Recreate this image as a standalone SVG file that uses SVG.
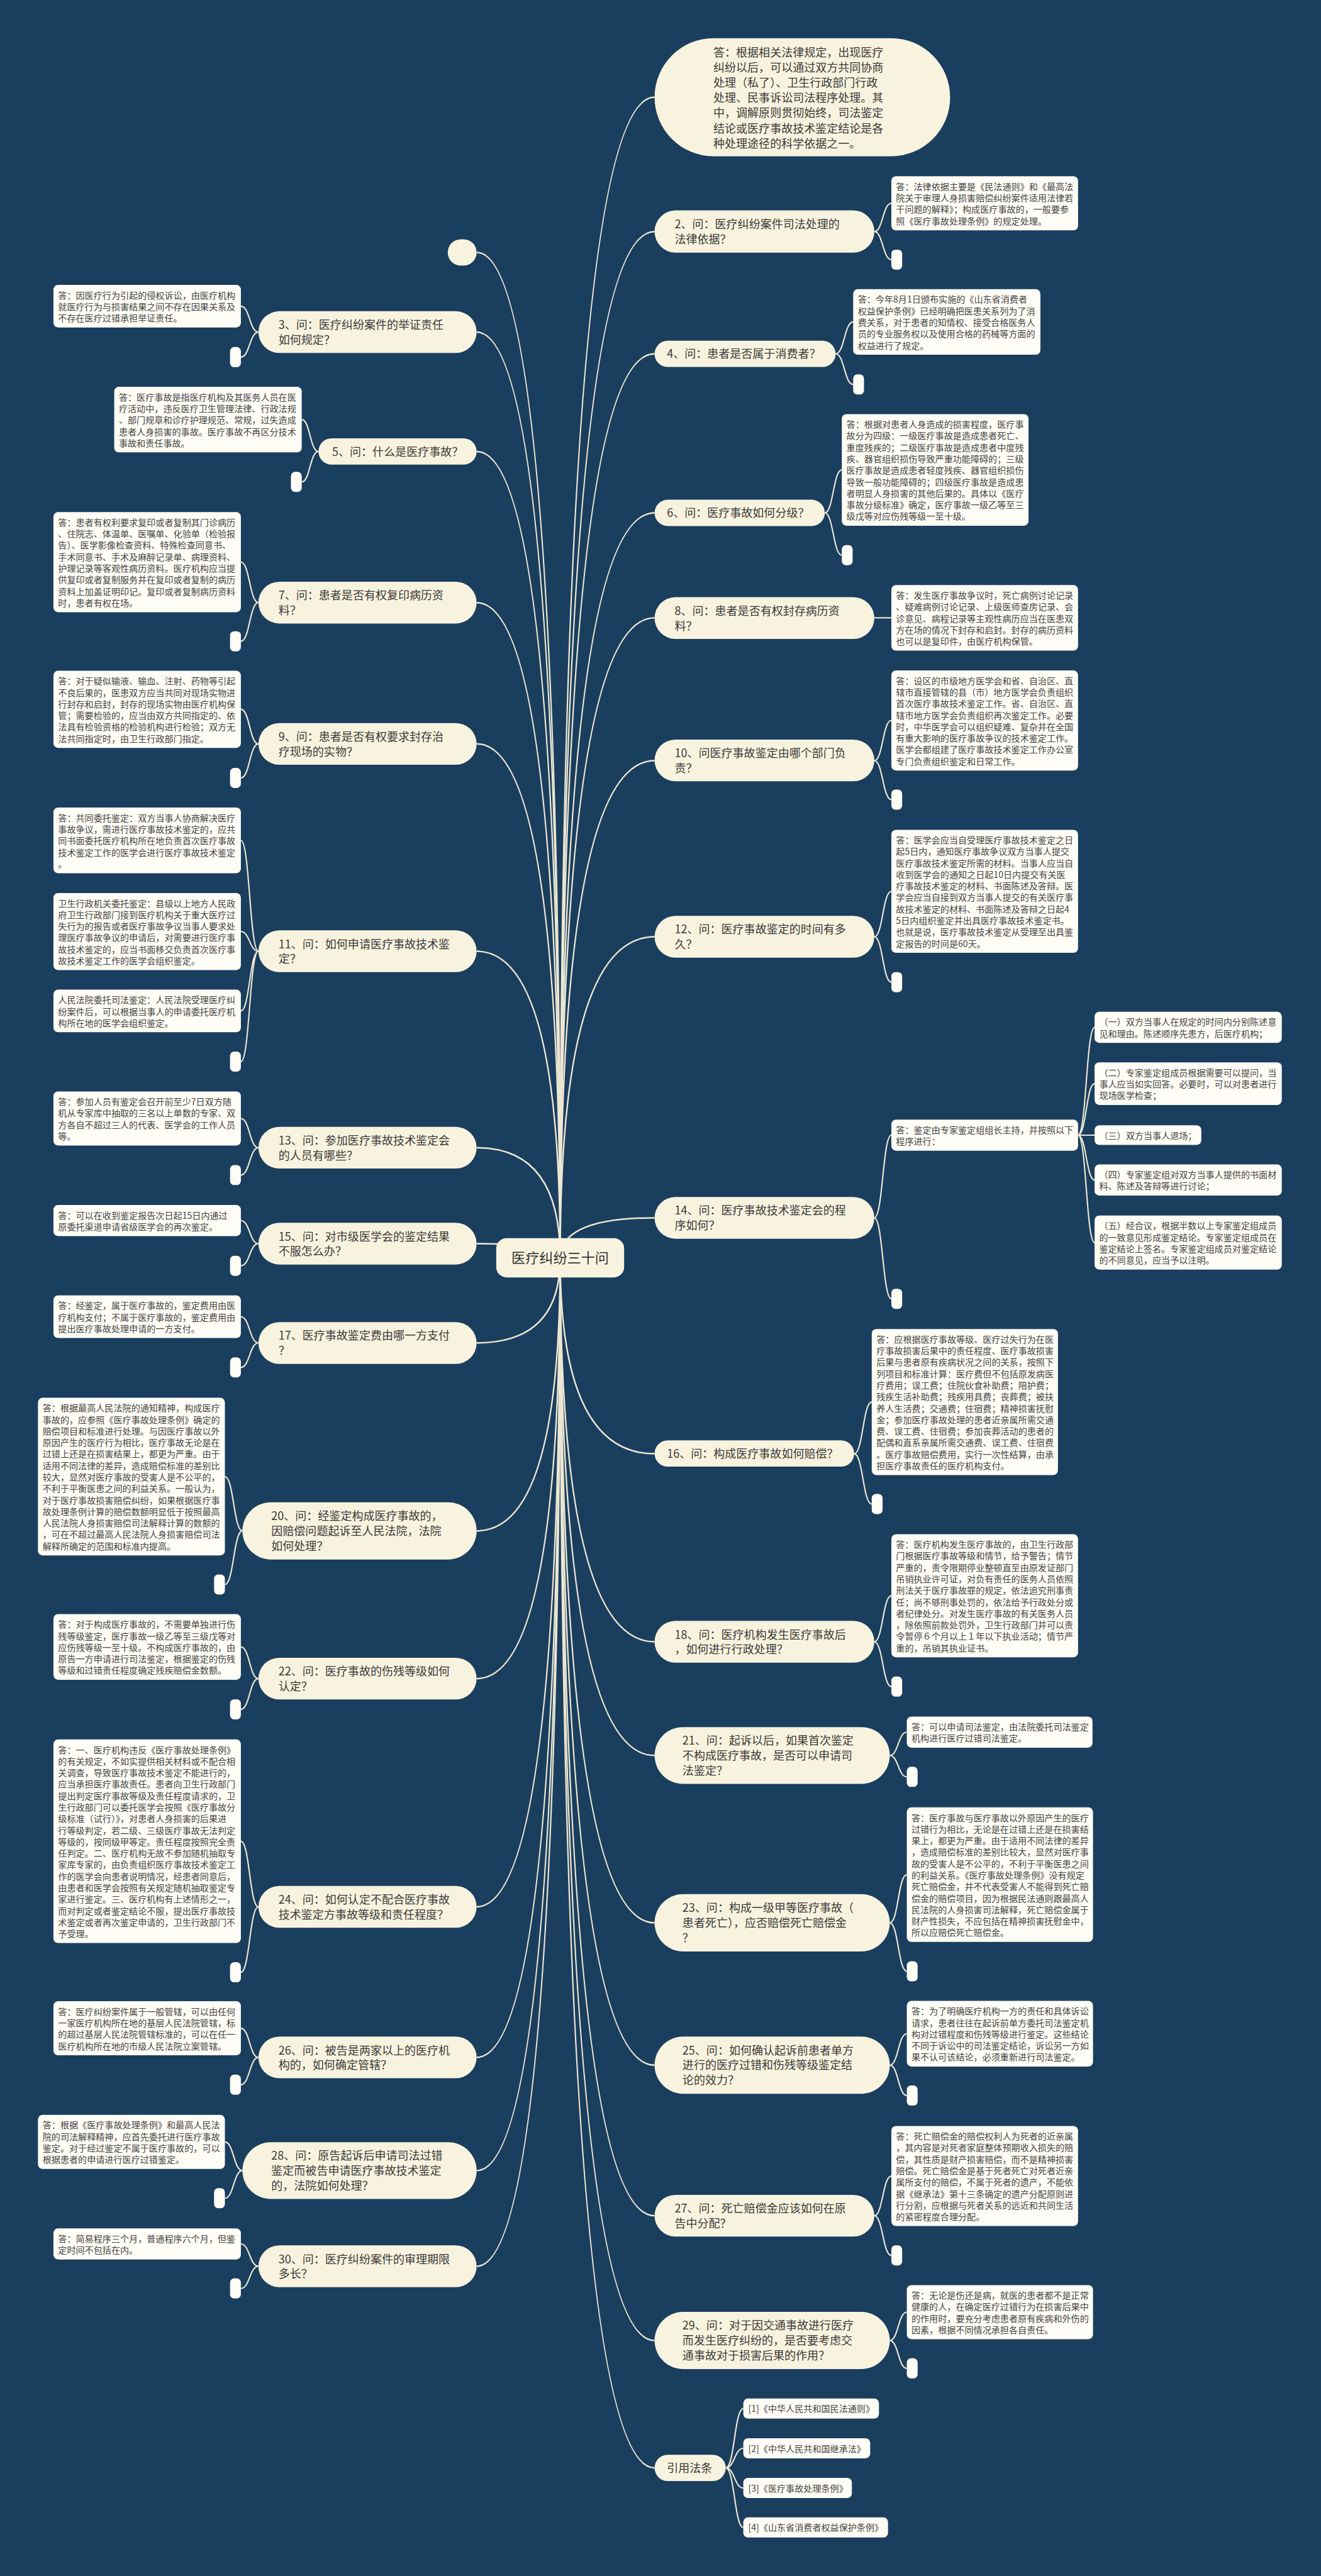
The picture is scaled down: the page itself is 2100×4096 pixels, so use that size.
<svg xmlns="http://www.w3.org/2000/svg" width="2100" height="4096" viewBox="0 0 2100 4096">
<style>
.m{fill:#f8f3de}
.l{fill:#fffdf5}
.e{fill:#fffdf5}
text{font-family:"Noto Sans CJK SC","Noto Sans",sans-serif}
.t{font-size:22px;fill:#3a3a3a}
.s{font-size:17.2px;fill:#444444}
.ct{font-size:27px;fill:#333333}
.c{fill:none;stroke:#ece7d3;stroke-width:2.6}
.k{fill:none;stroke:#ece7d3;stroke-width:3}
</style>
<rect width="2100" height="4096" fill="#1a3e5e"/>
<g transform="scale(0.82)">
<g id="connectors">
<path class="k" d="M1086,2440 Q1086,188.5 1269,188.5"/>
<path class="k" d="M1086,2440 Q1086,449 1269,449"/>
<path class="k" d="M1086,2440 Q1086,686 1269,686"/>
<path class="k" d="M1086,2440 Q1086,994.5 1269,994.5"/>
<path class="k" d="M1086,2440 Q1086,1198 1269,1198"/>
<path class="k" d="M1086,2440 Q1086,1475 1269,1475"/>
<path class="k" d="M1086,2440 Q1086,1816.5 1269,1816.5"/>
<path class="k" d="M1086,2440 Q1086,2361.5 1269,2361.5"/>
<path class="k" d="M1086,2440 Q1086,2819 1269,2819"/>
<path class="k" d="M1086,2440 Q1086,3183.5 1269,3183.5"/>
<path class="k" d="M1086,2440 Q1086,3404 1269,3404"/>
<path class="k" d="M1086,2440 Q1086,3728.5 1269,3728.5"/>
<path class="k" d="M1086,2440 Q1086,4004.5 1269,4004.5"/>
<path class="k" d="M1086,2440 Q1086,4296.5 1269,4296.5"/>
<path class="k" d="M1086,2440 Q1086,4538.5 1269,4538.5"/>
<path class="k" d="M1086,2440 Q1086,4785.5 1269,4785.5"/>
<path class="k" d="M1086,2440 Q1086,489.5 924,489.5"/>
<path class="k" d="M1086,2440 Q1086,644 924,644"/>
<path class="k" d="M1086,2440 Q1086,875.5 924,875.5"/>
<path class="k" d="M1086,2440 Q1086,1168.5 924,1168.5"/>
<path class="k" d="M1086,2440 Q1086,1442.5 924,1442.5"/>
<path class="k" d="M1086,2440 Q1086,1844.5 924,1844.5"/>
<path class="k" d="M1086,2440 Q1086,2225.5 924,2225.5"/>
<path class="k" d="M1086,2440 Q1086,2411.5 924,2411.5"/>
<path class="k" d="M1086,2440 Q1086,2604 924,2604"/>
<path class="k" d="M1086,2440 Q1086,2968.5 924,2968.5"/>
<path class="k" d="M1086,2440 Q1086,3255 924,3255"/>
<path class="k" d="M1086,2440 Q1086,3697.5 924,3697.5"/>
<path class="k" d="M1086,2440 Q1086,3989.5 924,3989.5"/>
<path class="k" d="M1086,2440 Q1086,4209 924,4209"/>
<path class="k" d="M1086,2440 Q1086,4394.5 924,4394.5"/>
<path class="c" d="M1695,449 C1711.5,449 1711.5,394.2 1728,394.2 M1695,449 C1711.5,449 1711.5,503.5 1728,503.5"/>
<path class="c" d="M1620,686 C1637,686 1637,624.3 1654,624.3 M1620,686 C1637,686 1637,745.5 1654,745.5"/>
<path class="c" d="M1599,994.5 C1615.5,994.5 1615.5,911.2 1632,911.2 M1599,994.5 C1615.5,994.5 1615.5,1076.5 1632,1076.5"/>
<path class="c" d="M1695,1198 L1728,1198"/>
<path class="c" d="M1695,1475 C1711.5,1475 1711.5,1397 1728,1397 M1695,1475 C1711.5,1475 1711.5,1550.5 1728,1550.5"/>
<path class="c" d="M1695,1816.5 C1711.5,1816.5 1711.5,1728.4 1728,1728.4 M1695,1816.5 C1711.5,1816.5 1711.5,1904.5 1728,1904.5"/>
<path class="c" d="M1695,2361.5 C1711.5,2361.5 1711.5,2201.2 1728,2201.2 M1695,2361.5 C1711.5,2361.5 1711.5,2518.5 1728,2518.5"/>
<path class="c" d="M2090,2201.2 C2106,2201.2 2106,1992.2 2122,1992.2 M2090,2201.2 C2106,2201.2 2106,2101.3 2122,2101.3 M2090,2201.2 L2122,2201.2 M2090,2201.2 C2106,2201.2 2106,2288.2 2122,2288.2 M2090,2201.2 C2106,2201.2 2106,2409.5 2122,2409.5"/>
<path class="c" d="M1656,2819 C1673,2819 1673,2718.7 1690,2718.7 M1656,2819 C1673,2819 1673,2916.5 1690,2916.5"/>
<path class="c" d="M1695,3183.5 C1711.5,3183.5 1711.5,3094.4 1728,3094.4 M1695,3183.5 C1711.5,3183.5 1711.5,3270.5 1728,3270.5"/>
<path class="c" d="M1725,3404 C1741.5,3404 1741.5,3358.8 1758,3358.8 M1725,3404 C1741.5,3404 1741.5,3445.5 1758,3445.5"/>
<path class="c" d="M1725,3728.5 C1741.5,3728.5 1741.5,3635.2 1758,3635.2 M1725,3728.5 C1741.5,3728.5 1741.5,3822.5 1758,3822.5"/>
<path class="c" d="M1725,4004.5 C1741.5,4004.5 1741.5,3943.6 1758,3943.6 M1725,4004.5 C1741.5,4004.5 1741.5,4063.5 1758,4063.5"/>
<path class="c" d="M1695,4296.5 C1711.5,4296.5 1711.5,4219.6 1728,4219.6 M1695,4296.5 C1711.5,4296.5 1711.5,4373.5 1728,4373.5"/>
<path class="c" d="M1725,4538.5 C1741.5,4538.5 1741.5,4483.5 1758,4483.5 M1725,4538.5 C1741.5,4538.5 1741.5,4592.5 1758,4592.5"/>
<path class="c" d="M1407,4785.5 C1424,4785.5 1424,4670.5 1441,4670.5 M1407,4785.5 C1424,4785.5 1424,4747.5 1441,4747.5 M1407,4785.5 C1424,4785.5 1424,4824.5 1441,4824.5 M1407,4785.5 C1424,4785.5 1424,4901 1441,4901"/>
<path class="c" d="M501,644 C484,644 484,593.8 467,593.8 M501,644 C484,644 484,692.5 467,692.5"/>
<path class="c" d="M617.4,875.5 C601,875.5 601,813.6 585,813.6 M617.4,875.5 C601,875.5 601,934.5 585,934.5"/>
<path class="c" d="M501,1168.5 C484,1168.5 484,1090 467,1090 M501,1168.5 C484,1168.5 484,1243.5 467,1243.5"/>
<path class="c" d="M501,1442.5 C484,1442.5 484,1375.5 467,1375.5 M501,1442.5 C484,1442.5 484,1508.5 467,1508.5"/>
<path class="c" d="M501,1844.5 C484,1844.5 484,1629.6 467,1629.6 M501,1844.5 C484,1844.5 484,1806.4 467,1806.4 M501,1844.5 C484,1844.5 484,1960.3 467,1960.3 M501,1844.5 C484,1844.5 484,2058.5 467,2058.5"/>
<path class="c" d="M501,2225.5 C484,2225.5 484,2168.9 467,2168.9 M501,2225.5 C484,2225.5 484,2278.5 467,2278.5"/>
<path class="c" d="M501,2411.5 C484,2411.5 484,2366.8 467,2366.8 M501,2411.5 C484,2411.5 484,2454.5 467,2454.5"/>
<path class="c" d="M501,2604 C484,2604 484,2553.3 467,2553.3 M501,2604 C484,2604 484,2651.5 467,2651.5"/>
<path class="c" d="M470,2968.5 C453,2968.5 453,2863.3 436,2863.3 M470,2968.5 C453,2968.5 453,3072.5 436,3072.5"/>
<path class="c" d="M501,3255 C484,3255 484,3193.6 467,3193.6 M501,3255 C484,3255 484,3314.5 467,3314.5"/>
<path class="c" d="M501,3697.5 C484,3697.5 484,3570.4 467,3570.4 M501,3697.5 C484,3697.5 484,3824.5 467,3824.5"/>
<path class="c" d="M501,3989.5 C484,3989.5 484,3933 467,3933 M501,3989.5 C484,3989.5 484,4042.5 467,4042.5"/>
<path class="c" d="M470,4209 C453,4209 453,4153.5 436,4153.5 M470,4209 C453,4209 453,4262.5 436,4262.5"/>
<path class="c" d="M501,4394.5 C484,4394.5 484,4351.2 467,4351.2 M501,4394.5 C484,4394.5 484,4437.5 467,4437.5"/>
</g>

<g id="root"><rect class="m" x="962" y="2401" width="248" height="76" rx="20"/><text class="ct" x="1086" y="2449" text-anchor="middle">医疗纠纷三十问</text></g>

<g id="n1"><rect class="m" x="1269" y="74" width="573" height="229" rx="114.5"/><text class="t"><tspan x="1383" y="109.8">答：根据相关法律规定，出现医疗</tspan><tspan x="1383" y="139.2">纠纷以后，可以通过双方共同协商</tspan><tspan x="1383" y="168.6">处理（私了）、卫生行政部门行政</tspan><tspan x="1383" y="198">处理、民事诉讼司法程序处理。其</tspan><tspan x="1383" y="227.4">中，调解原则贯彻始终，司法鉴定</tspan><tspan x="1383" y="256.8">结论或医疗事故技术鉴定结论是各</tspan><tspan x="1383" y="286.2">种处理途径的科学依据之一。</tspan></text></g>

<g id="n2"><rect class="m" x="1269" y="408" width="426" height="82" rx="41"/><text class="t"><tspan x="1308" y="443.1">2、问：医疗纠纷案件司法处理的</tspan><tspan x="1308" y="472.1">法律依据？</tspan></text></g>
<g id="n2a"><rect class="l" x="1728" y="341.7" width="362" height="105" rx="9"/><text class="s"><tspan x="1737" y="368.1">答：法律依据主要是《民法通则》和《最高法</tspan><tspan x="1737" y="390.4">院关于审理人身损害赔偿纠纷案件适用法律若</tspan><tspan x="1737" y="412.7">干问题的解释》；构成医疗事故的，一般要参</tspan><tspan x="1737" y="435">照《医疗事故处理条例》的规定处理。</tspan></text></g>
<g id="n2b"><rect class="e" x="1728" y="484" width="21" height="39" rx="8"/></g>

<g id="n4"><rect class="m" x="1269" y="660.7" width="351" height="51" rx="25.5"/><text class="t" x="1293" y="694.1">4、问：患者是否属于消费者？</text></g>
<g id="n4a"><rect class="l" x="1654" y="560.7" width="363" height="127.2" rx="9"/><text class="s"><tspan x="1663" y="587.1">答：今年8月1日颁布实施的《山东省消费者</tspan><tspan x="1663" y="609.4">权益保护条例》已经明确把医患关系列为了消</tspan><tspan x="1663" y="631.7">费关系，对于患者的知情权、接受合格医务人</tspan><tspan x="1663" y="654">员的专业服务权以及使用合格的药械等方面的</tspan><tspan x="1663" y="676.3">权益进行了规定。</tspan></text></g>
<g id="n4b"><rect class="e" x="1654" y="726" width="21" height="39" rx="8"/></g>

<g id="n6"><rect class="m" x="1269" y="969" width="330" height="51" rx="25.5"/><text class="t" x="1293" y="1002.6">6、问：医疗事故如何分级？</text></g>
<g id="n6a"><rect class="l" x="1632" y="803" width="362" height="216.4" rx="9"/><text class="s"><tspan x="1641" y="829.4">答：根据对患者人身造成的损害程度，医疗事</tspan><tspan x="1641" y="851.7">故分为四级：一级医疗事故是造成患者死亡、</tspan><tspan x="1641" y="874">重度残疾的；二级医疗事故是造成患者中度残</tspan><tspan x="1641" y="896.3">疾、器官组织损伤导致严重功能障碍的；三级</tspan><tspan x="1641" y="918.6">医疗事故是造成患者轻度残疾、器官组织损伤</tspan><tspan x="1641" y="940.9">导致一般功能障碍的；四级医疗事故是造成患</tspan><tspan x="1641" y="963.2">者明显人身损害的其他后果的。具体以《医疗</tspan><tspan x="1641" y="985.5">事故分级标准》确定，医疗事故一级乙等至三</tspan><tspan x="1641" y="1007.8">级戊等对应伤残等级一至十级。</tspan></text></g>
<g id="n6b"><rect class="e" x="1632" y="1057" width="21" height="39" rx="8"/></g>

<g id="n8"><rect class="m" x="1269" y="1158" width="426" height="81" rx="40.5"/><text class="t"><tspan x="1308" y="1192.6">8、问：患者是否有权封存病历资</tspan><tspan x="1308" y="1221.6">料？</tspan></text></g>
<g id="n8a"><rect class="l" x="1728" y="1134.5" width="362" height="127.2" rx="9"/><text class="s"><tspan x="1737" y="1160.9">答：发生医疗事故争议时，死亡病例讨论记录</tspan><tspan x="1737" y="1183.2">、疑难病例讨论记录、上级医师查房记录、会</tspan><tspan x="1737" y="1205.5">诊意见、病程记录等主观性病历应当在医患双</tspan><tspan x="1737" y="1227.8">方在场的情况下封存和启封。封存的病历资料</tspan><tspan x="1737" y="1250.1">也可以是复印件，由医疗机构保管。</tspan></text></g>

<g id="n10"><rect class="m" x="1269" y="1434" width="426" height="81" rx="40.5"/><text class="t"><tspan x="1308" y="1468.6">10、问医疗事故鉴定由哪个部门负</tspan><tspan x="1308" y="1497.6">责？</tspan></text></g>
<g id="n10a"><rect class="l" x="1728" y="1300" width="362" height="194.1" rx="9"/><text class="s"><tspan x="1737" y="1326.4">答：设区的市级地方医学会和省、自治区、直</tspan><tspan x="1737" y="1348.7">辖市直接管辖的县（市）地方医学会负责组织</tspan><tspan x="1737" y="1371">首次医疗事故技术鉴定工作。省、自治区、直</tspan><tspan x="1737" y="1393.3">辖市地方医学会负责组织再次鉴定工作。必要</tspan><tspan x="1737" y="1415.6">时，中华医学会可以组织疑难、复杂并在全国</tspan><tspan x="1737" y="1437.9">有重大影响的医疗事故争议的技术鉴定工作。</tspan><tspan x="1737" y="1460.2">医学会都组建了医疗事故技术鉴定工作办公室</tspan><tspan x="1737" y="1482.5">专门负责组织鉴定和日常工作。</tspan></text></g>
<g id="n10b"><rect class="e" x="1728" y="1531" width="21" height="39" rx="8"/></g>

<g id="n12"><rect class="m" x="1269" y="1776" width="426" height="81" rx="40.5"/><text class="t"><tspan x="1308" y="1810.1">12、问：医疗事故鉴定的时间有多</tspan><tspan x="1308" y="1839.1">久？</tspan></text></g>
<g id="n12a"><rect class="l" x="1728" y="1609" width="362" height="238.7" rx="9"/><text class="s"><tspan x="1737" y="1635.4">答：医学会应当自受理医疗事故技术鉴定之日</tspan><tspan x="1737" y="1657.7">起5日内，通知医疗事故争议双方当事人提交</tspan><tspan x="1737" y="1680">医疗事故技术鉴定所需的材料。当事人应当自</tspan><tspan x="1737" y="1702.3">收到医学会的通知之日起10日内提交有关医</tspan><tspan x="1737" y="1724.6">疗事故技术鉴定的材料、书面陈述及答辩。医</tspan><tspan x="1737" y="1746.9">学会应当自接到双方当事人提交的有关医疗事</tspan><tspan x="1737" y="1769.2">故技术鉴定的材料、书面陈述及答辩之日起4</tspan><tspan x="1737" y="1791.5">5日内组织鉴定并出具医疗事故技术鉴定书。</tspan><tspan x="1737" y="1813.8">也就是说，医疗事故技术鉴定从受理至出具鉴</tspan><tspan x="1737" y="1836.1">定报告的时间是60天。</tspan></text></g>
<g id="n12b"><rect class="e" x="1728" y="1885" width="21" height="39" rx="8"/></g>

<g id="n14"><rect class="m" x="1269" y="2321" width="426" height="81" rx="40.5"/><text class="t"><tspan x="1308" y="2355.1">14、问：医疗事故技术鉴定会的程</tspan><tspan x="1308" y="2384.1">序如何？</tspan></text></g>
<g id="n14a"><rect class="l" x="1728" y="2171" width="362" height="60.3" rx="9"/><text class="s"><tspan x="1737" y="2197.4">答：鉴定由专家鉴定组组长主持，并按照以下</tspan><tspan x="1737" y="2219.7">程序进行：</tspan></text></g>
<g id="n14a1"><rect class="l" x="2122" y="1962" width="363" height="60.3" rx="9"/><text class="s"><tspan x="2131" y="1988.4">（一）双方当事人在规定的时间内分别陈述意</tspan><tspan x="2131" y="2010.7">见和理由。陈述顺序先患方，后医疗机构；</tspan></text></g>
<g id="n14a2"><rect class="l" x="2122" y="2060" width="363" height="82.6" rx="9"/><text class="s"><tspan x="2131" y="2086.4">（二）专家鉴定组成员根据需要可以提问，当</tspan><tspan x="2131" y="2108.7">事人应当如实回答。必要时，可以对患者进行</tspan><tspan x="2131" y="2131">现场医学检查；</tspan></text></g>
<g id="n14a3"><rect class="l" x="2122" y="2182" width="207" height="38" rx="9"/><text class="s" x="2131" y="2208.4">（三）双方当事人退场；</text></g>
<g id="n14a4"><rect class="l" x="2122" y="2258" width="363" height="60.3" rx="9"/><text class="s"><tspan x="2131" y="2284.4">（四）专家鉴定组对双方当事人提供的书面材</tspan><tspan x="2131" y="2306.7">料、陈述及答辩等进行讨论；</tspan></text></g>
<g id="n14a5"><rect class="l" x="2122" y="2357" width="363" height="104.9" rx="9"/><text class="s"><tspan x="2131" y="2383.4">（五）经合议，根据半数以上专家鉴定组成员</tspan><tspan x="2131" y="2405.7">的一致意见形成鉴定结论。专家鉴定组成员在</tspan><tspan x="2131" y="2428">鉴定结论上签名。专家鉴定组成员对鉴定结论</tspan><tspan x="2131" y="2450.3">的不同意见，应当予以注明。</tspan></text></g>
<g id="n14b"><rect class="e" x="1728" y="2499" width="21" height="39" rx="8"/></g>

<g id="n16"><rect class="m" x="1269" y="2793" width="387" height="51" rx="25.5"/><text class="t" x="1293" y="2827.1">16、问：构成医疗事故如何赔偿？</text></g>
<g id="n16a"><rect class="l" x="1690" y="2577" width="361" height="283.3" rx="9"/><text class="s"><tspan x="1699" y="2603.4">答：应根据医疗事故等级、医疗过失行为在医</tspan><tspan x="1699" y="2625.7">疗事故损害后果中的责任程度、医疗事故损害</tspan><tspan x="1699" y="2648">后果与患者原有疾病状况之间的关系，按照下</tspan><tspan x="1699" y="2670.3">列项目和标准计算：医疗费但不包括原发病医</tspan><tspan x="1699" y="2692.6">疗费用；误工费；住院伙食补助费；陪护费；</tspan><tspan x="1699" y="2714.9">残疾生活补助费；残疾用具费；丧葬费；被扶</tspan><tspan x="1699" y="2737.2">养人生活费；交通费；住宿费；精神损害抚慰</tspan><tspan x="1699" y="2759.5">金；参加医疗事故处理的患者近亲属所需交通</tspan><tspan x="1699" y="2781.8">费、误工费、住宿费；参加丧葬活动的患者的</tspan><tspan x="1699" y="2804.1">配偶和直系亲属所需交通费、误工费、住宿费</tspan><tspan x="1699" y="2826.4">。医疗事故赔偿费用，实行一次性结算，由承</tspan><tspan x="1699" y="2848.7">担医疗事故责任的医疗机构支付。</tspan></text></g>
<g id="n16b"><rect class="e" x="1690" y="2897" width="21" height="39" rx="8"/></g>

<g id="n18"><rect class="m" x="1269" y="3143" width="426" height="81" rx="40.5"/><text class="t"><tspan x="1308" y="3177.6">18、问：医疗机构发生医疗事故后</tspan><tspan x="1308" y="3206.6">，如何进行行政处理？</tspan></text></g>
<g id="n18a"><rect class="l" x="1728" y="2975" width="362" height="238.7" rx="9"/><text class="s"><tspan x="1737" y="3001.4">答：医疗机构发生医疗事故的，由卫生行政部</tspan><tspan x="1737" y="3023.7">门根据医疗事故等级和情节，给予警告；情节</tspan><tspan x="1737" y="3046">严重的，责令限期停业整顿直至由原发证部门</tspan><tspan x="1737" y="3068.3">吊销执业许可证，对负有责任的医务人员依照</tspan><tspan x="1737" y="3090.6">刑法关于医疗事故罪的规定，依法追究刑事责</tspan><tspan x="1737" y="3112.9">任；尚不够刑事处罚的，依法给予行政处分或</tspan><tspan x="1737" y="3135.2">者纪律处分。对发生医疗事故的有关医务人员</tspan><tspan x="1737" y="3157.5">，除依照前款处罚外，卫生行政部门并可以责</tspan><tspan x="1737" y="3179.8">令暂停６个月以上１年以下执业活动；情节严</tspan><tspan x="1737" y="3202.1">重的，吊销其执业证书。</tspan></text></g>
<g id="n18b"><rect class="e" x="1728" y="3251" width="21" height="39" rx="8"/></g>

<g id="n21"><rect class="m" x="1269" y="3349" width="456" height="110" rx="55"/><text class="t"><tspan x="1323" y="3383.1">21、问：起诉以后，如果首次鉴定</tspan><tspan x="1323" y="3412.1">不构成医疗事故，是否可以申请司</tspan><tspan x="1323" y="3441.1">法鉴定？</tspan></text></g>
<g id="n21a"><rect class="l" x="1758" y="3328.6" width="360" height="60.3" rx="9"/><text class="s"><tspan x="1767" y="3355">答：可以申请司法鉴定，由法院委托司法鉴定</tspan><tspan x="1767" y="3377.3">机构进行医疗过错司法鉴定。</tspan></text></g>
<g id="n21b"><rect class="e" x="1758" y="3426" width="21" height="39" rx="8"/></g>

<g id="n23"><rect class="m" x="1269" y="3673" width="456" height="111" rx="55.5"/><text class="t"><tspan x="1323" y="3707.6">23、问：构成一级甲等医疗事故（</tspan><tspan x="1323" y="3736.6">患者死亡），应否赔偿死亡赔偿金</tspan><tspan x="1323" y="3765.6">？</tspan></text></g>
<g id="n23a"><rect class="l" x="1758" y="3504.7" width="361" height="261" rx="9"/><text class="s"><tspan x="1767" y="3531.1">答：医疗事故与医疗事故以外原因产生的医疗</tspan><tspan x="1767" y="3553.4">过错行为相比，无论是在过错上还是在损害结</tspan><tspan x="1767" y="3575.7">果上，都更为严重。由于适用不同法律的差异</tspan><tspan x="1767" y="3598">，造成赔偿标准的差别比较大，显然对医疗事</tspan><tspan x="1767" y="3620.3">故的受害人是不公平的，不利于平衡医患之间</tspan><tspan x="1767" y="3642.6">的利益关系。《医疗事故处理条例》没有规定</tspan><tspan x="1767" y="3664.9">死亡赔偿金，并不代表受害人不能得到死亡赔</tspan><tspan x="1767" y="3687.2">偿金的赔偿项目，因为根据民法通则跟最高人</tspan><tspan x="1767" y="3709.5">民法院的人身损害司法解释，死亡赔偿金属于</tspan><tspan x="1767" y="3731.8">财产性损失，不应包括在精神损害抚慰金中，</tspan><tspan x="1767" y="3754.1">所以应赔偿死亡赔偿金。</tspan></text></g>
<g id="n23b"><rect class="e" x="1758" y="3803" width="21" height="39" rx="8"/></g>

<g id="n25"><rect class="m" x="1269" y="3949" width="456" height="111" rx="55.5"/><text class="t"><tspan x="1323" y="3983.6">25、问：如何确认起诉前患者单方</tspan><tspan x="1323" y="4012.6">进行的医疗过错和伤残等级鉴定结</tspan><tspan x="1323" y="4041.6">论的效力？</tspan></text></g>
<g id="n25a"><rect class="l" x="1758" y="3880" width="361" height="127.2" rx="9"/><text class="s"><tspan x="1767" y="3906.4">答：为了明确医疗机构一方的责任和具体诉讼</tspan><tspan x="1767" y="3928.7">请求，患者往往在起诉前单方委托司法鉴定机</tspan><tspan x="1767" y="3951">构对过错程度和伤残等级进行鉴定。这些结论</tspan><tspan x="1767" y="3973.3">不同于诉讼中的司法鉴定结论，诉讼另一方如</tspan><tspan x="1767" y="3995.6">果不认可该结论，必须重新进行司法鉴定。</tspan></text></g>
<g id="n25b"><rect class="e" x="1758" y="4044" width="21" height="39" rx="8"/></g>

<g id="n27"><rect class="m" x="1269" y="4256" width="426" height="81" rx="40.5"/><text class="t"><tspan x="1308" y="4290.6">27、问：死亡赔偿金应该如何在原</tspan><tspan x="1308" y="4319.6">告中分配？</tspan></text></g>
<g id="n27a"><rect class="l" x="1728" y="4122.5" width="362" height="194.1" rx="9"/><text class="s"><tspan x="1737" y="4148.9">答：死亡赔偿金的赔偿权利人为死者的近亲属</tspan><tspan x="1737" y="4171.2">，其内容是对死者家庭整体预期收入损失的赔</tspan><tspan x="1737" y="4193.5">偿，其性质是财产损害赔偿，而不是精神损害</tspan><tspan x="1737" y="4215.8">赔偿。死亡赔偿金是基于死者死亡对死者近亲</tspan><tspan x="1737" y="4238.1">属所支付的赔偿，不属于死者的遗产，不能依</tspan><tspan x="1737" y="4260.4">据《继承法》第十三条确定的遗产分配原则进</tspan><tspan x="1737" y="4282.7">行分割，应根据与死者关系的远近和共同生活</tspan><tspan x="1737" y="4305">的紧密程度合理分配。</tspan></text></g>
<g id="n27b"><rect class="e" x="1728" y="4354" width="21" height="39" rx="8"/></g>

<g id="n29"><rect class="m" x="1269" y="4483" width="456" height="111" rx="55.5"/><text class="t"><tspan x="1323" y="4517.6">29、问：对于因交通事故进行医疗</tspan><tspan x="1323" y="4546.6">而发生医疗纠纷的，是否要考虑交</tspan><tspan x="1323" y="4575.6">通事故对于损害后果的作用？</tspan></text></g>
<g id="n29a"><rect class="l" x="1758" y="4431" width="361" height="104.9" rx="9"/><text class="s"><tspan x="1767" y="4457.4">答：无论是伤还是病，就医的患者都不是正常</tspan><tspan x="1767" y="4479.7">健康的人，在确定医疗过错行为在损害后果中</tspan><tspan x="1767" y="4502">的作用时，要充分考虑患者原有疾病和外伤的</tspan><tspan x="1767" y="4524.3">因素，根据不同情况承担各自责任。</tspan></text></g>
<g id="n29b"><rect class="e" x="1758" y="4573" width="21" height="39" rx="8"/></g>

<g id="nref"><rect class="m" x="1269" y="4760" width="138" height="51" rx="25.5"/><text class="t" x="1293" y="4793.6">引用法条</text></g>
<g id="ref1"><rect class="l" x="1441" y="4651" width="263" height="39" rx="9"/><text class="s" x="1450.6" y="4677.4">[1]《中华人民共和国民法通则》</text></g>
<g id="ref2"><rect class="l" x="1441" y="4728" width="246" height="39" rx="9"/><text class="s" x="1450.6" y="4754.4">[2]《中华人民共和国继承法》</text></g>
<g id="ref3"><rect class="l" x="1441" y="4805" width="210.5" height="39" rx="9"/><text class="s" x="1450.6" y="4831.4">[3]《医疗事故处理条例》</text></g>
<g id="ref4"><rect class="l" x="1441" y="4881.5" width="280.6" height="39" rx="9"/><text class="s" x="1450.6" y="4907.9">[4]《山东省消费者权益保护条例》</text></g>

<g id="n0"><rect class="m" x="868" y="464" width="56" height="51" rx="25.5"/></g>

<g id="n3"><rect class="m" x="501" y="603.5" width="423" height="81" rx="40.5"/><text class="t"><tspan x="540" y="638.1">3、问：医疗纠纷案件的举证责任</tspan><tspan x="540" y="667.1">如何规定？</tspan></text></g>
<g id="n3a"><rect class="l" x="103.6" y="552.5" width="363.4" height="82.6" rx="9"/><text class="s"><tspan x="112.6" y="578.9">答：因医疗行为引起的侵权诉讼，由医疗机构</tspan><tspan x="112.6" y="601.2">就医疗行为与损害结果之间不存在因果关系及</tspan><tspan x="112.6" y="623.5">不存在医疗过错承担举证责任。</tspan></text></g>
<g id="n3b"><rect class="e" x="446" y="673" width="21" height="39" rx="8"/></g>

<g id="n5"><rect class="m" x="617.4" y="850" width="306.6" height="51" rx="25.5"/><text class="t" x="644" y="883.6">5、问：什么是医疗事故？</text></g>
<g id="n5a"><rect class="l" x="221.4" y="750" width="363.6" height="127.2" rx="9"/><text class="s"><tspan x="230.4" y="776.4">答：医疗事故是指医疗机构及其医务人员在医</tspan><tspan x="230.4" y="798.7">疗活动中，违反医疗卫生管理法律、行政法规</tspan><tspan x="230.4" y="821">、部门规章和诊疗护理规范、常规，过失造成</tspan><tspan x="230.4" y="843.3">患者人身损害的事故。医疗事故不再区分技术</tspan><tspan x="230.4" y="865.6">事故和责任事故。</tspan></text></g>
<g id="n5b"><rect class="e" x="564" y="915" width="21" height="39" rx="8"/></g>

<g id="n7"><rect class="m" x="501" y="1128" width="423" height="81" rx="40.5"/><text class="t"><tspan x="540" y="1162.6">7、问：患者是否有权复印病历资</tspan><tspan x="540" y="1191.6">料？</tspan></text></g>
<g id="n7a"><rect class="l" x="103.6" y="993" width="363.4" height="194.1" rx="9"/><text class="s"><tspan x="112.6" y="1019.4">答：患者有权利要求复印或者复制其门诊病历</tspan><tspan x="112.6" y="1041.7">、住院志、体温单、医嘱单、化验单（检验报</tspan><tspan x="112.6" y="1064">告）、医学影像检查资料、特殊检查同意书、</tspan><tspan x="112.6" y="1086.3">手术同意书、手术及麻醉记录单、病理资料、</tspan><tspan x="112.6" y="1108.6">护理记录等客观性病历资料。医疗机构应当提</tspan><tspan x="112.6" y="1130.9">供复印或者复制服务并在复印或者复制的病历</tspan><tspan x="112.6" y="1153.2">资料上加盖证明印记。复印或者复制病历资料</tspan><tspan x="112.6" y="1175.5">时，患者有权在场。</tspan></text></g>
<g id="n7b"><rect class="e" x="446" y="1224" width="21" height="39" rx="8"/></g>

<g id="n9"><rect class="m" x="501" y="1402" width="423" height="81" rx="40.5"/><text class="t"><tspan x="540" y="1436.6">9、问：患者是否有权要求封存治</tspan><tspan x="540" y="1465.6">疗现场的实物？</tspan></text></g>
<g id="n9a"><rect class="l" x="103.6" y="1300.7" width="363.4" height="149.5" rx="9"/><text class="s"><tspan x="112.6" y="1327.1">答：对于疑似输液、输血、注射、药物等引起</tspan><tspan x="112.6" y="1349.4">不良后果的，医患双方应当共同对现场实物进</tspan><tspan x="112.6" y="1371.7">行封存和启封，封存的现场实物由医疗机构保</tspan><tspan x="112.6" y="1394">管；需要检验的，应当由双方共同指定的、依</tspan><tspan x="112.6" y="1416.3">法具有检验资格的检验机构进行检验；双方无</tspan><tspan x="112.6" y="1438.6">法共同指定时，由卫生行政部门指定。</tspan></text></g>
<g id="n9b"><rect class="e" x="446" y="1489" width="21" height="39" rx="8"/></g>

<g id="n11"><rect class="m" x="501" y="1804" width="423" height="81" rx="40.5"/><text class="t"><tspan x="540" y="1838.6">11、问：如何申请医疗事故技术鉴</tspan><tspan x="540" y="1867.6">定？</tspan></text></g>
<g id="n11a"><rect class="l" x="103.6" y="1566" width="363.4" height="127.2" rx="9"/><text class="s"><tspan x="112.6" y="1592.4">答：共同委托鉴定：双方当事人协商解决医疗</tspan><tspan x="112.6" y="1614.7">事故争议，需进行医疗事故技术鉴定的，应共</tspan><tspan x="112.6" y="1637">同书面委托医疗机构所在地负责首次医疗事故</tspan><tspan x="112.6" y="1659.3">技术鉴定工作的医学会进行医疗事故技术鉴定</tspan><tspan x="112.6" y="1681.6">。</tspan></text></g>
<g id="n11b"><rect class="l" x="103.6" y="1731.6" width="363.4" height="149.5" rx="9"/><text class="s"><tspan x="112.6" y="1758">卫生行政机关委托鉴定：县级以上地方人民政</tspan><tspan x="112.6" y="1780.3">府卫生行政部门接到医疗机构关于重大医疗过</tspan><tspan x="112.6" y="1802.6">失行为的报告或者医疗事故争议当事人要求处</tspan><tspan x="112.6" y="1824.9">理医疗事故争议的申请后，对需要进行医疗事</tspan><tspan x="112.6" y="1847.2">故技术鉴定的，应当书面移交负责首次医疗事</tspan><tspan x="112.6" y="1869.5">故技术鉴定工作的医学会组织鉴定。</tspan></text></g>
<g id="n11c"><rect class="l" x="103.6" y="1919" width="363.4" height="82.6" rx="9"/><text class="s"><tspan x="112.6" y="1945.4">人民法院委托司法鉴定：人民法院受理医疗纠</tspan><tspan x="112.6" y="1967.7">纷案件后，可以根据当事人的申请委托医疗机</tspan><tspan x="112.6" y="1990">构所在地的医学会组织鉴定。</tspan></text></g>
<g id="n11d"><rect class="e" x="446" y="2039" width="21" height="39" rx="8"/></g>

<g id="n13"><rect class="m" x="501" y="2185" width="423" height="81" rx="40.5"/><text class="t"><tspan x="540" y="2219.6">13、问：参加医疗事故技术鉴定会</tspan><tspan x="540" y="2248.6">的人员有哪些？</tspan></text></g>
<g id="n13a"><rect class="l" x="103.6" y="2116.4" width="363.4" height="104.9" rx="9"/><text class="s"><tspan x="112.6" y="2142.8">答：参加人员有鉴定会召开前至少7日双方随</tspan><tspan x="112.6" y="2165.1">机从专家库中抽取的三名以上单数的专家、双</tspan><tspan x="112.6" y="2187.4">方各自不超过三人的代表、医学会的工作人员</tspan><tspan x="112.6" y="2209.7">等。</tspan></text></g>
<g id="n13b"><rect class="e" x="446" y="2259" width="21" height="39" rx="8"/></g>

<g id="n15"><rect class="m" x="501" y="2371" width="423" height="81" rx="40.5"/><text class="t"><tspan x="540" y="2405.6">15、问：对市级医学会的鉴定结果</tspan><tspan x="540" y="2434.6">不服怎么办？</tspan></text></g>
<g id="n15a"><rect class="l" x="103.6" y="2336.6" width="363.4" height="60.3" rx="9"/><text class="s"><tspan x="112.6" y="2363">答：可以在收到鉴定报告次日起15日内通过</tspan><tspan x="112.6" y="2385.3">原委托渠道申请省级医学会的再次鉴定。</tspan></text></g>
<g id="n15b"><rect class="e" x="446" y="2435" width="21" height="39" rx="8"/></g>

<g id="n17"><rect class="m" x="501" y="2563.7" width="423" height="81" rx="40.5"/><text class="t"><tspan x="540" y="2598.1">17、医疗事故鉴定费由哪一方支付</tspan><tspan x="540" y="2627.1">？</tspan></text></g>
<g id="n17a"><rect class="l" x="103.6" y="2512" width="363.4" height="82.6" rx="9"/><text class="s"><tspan x="112.6" y="2538.4">答：经鉴定，属于医疗事故的，鉴定费用由医</tspan><tspan x="112.6" y="2560.7">疗机构支付；不属于医疗事故的，鉴定费用由</tspan><tspan x="112.6" y="2583">提出医疗事故处理申请的一方支付。</tspan></text></g>
<g id="n17b"><rect class="e" x="446" y="2632" width="21" height="39" rx="8"/></g>

<g id="n20"><rect class="m" x="470" y="2913" width="454" height="111" rx="55.5"/><text class="t"><tspan x="526" y="2947.6">20、问：经鉴定构成医疗事故的，</tspan><tspan x="526" y="2976.6">因赔偿问题起诉至人民法院，法院</tspan><tspan x="526" y="3005.6">如何处理？</tspan></text></g>
<g id="n20a"><rect class="l" x="73.6" y="2710.5" width="362.4" height="305.6" rx="9"/><text class="s"><tspan x="82.6" y="2736.9">答：根据最高人民法院的通知精神，构成医疗</tspan><tspan x="82.6" y="2759.2">事故的，应参照《医疗事故处理条例》确定的</tspan><tspan x="82.6" y="2781.5">赔偿项目和标准进行处理。与因医疗事故以外</tspan><tspan x="82.6" y="2803.8">原因产生的医疗行为相比，医疗事故无论是在</tspan><tspan x="82.6" y="2826.1">过错上还是在损害结果上，都更为严重。由于</tspan><tspan x="82.6" y="2848.4">适用不同法律的差异，造成赔偿标准的差别比</tspan><tspan x="82.6" y="2870.7">较大，显然对医疗事故的受害人是不公平的，</tspan><tspan x="82.6" y="2893">不利于平衡医患之间的利益关系。一般认为，</tspan><tspan x="82.6" y="2915.3">对于医疗事故损害赔偿纠纷，如果根据医疗事</tspan><tspan x="82.6" y="2937.6">故处理条例计算的赔偿数额明显低于按照最高</tspan><tspan x="82.6" y="2959.9">人民法院人身损害赔偿司法解释计算的数额的</tspan><tspan x="82.6" y="2982.2">，可在不超过最高人民法院人身损害赔偿司法</tspan><tspan x="82.6" y="3004.5">解释所确定的范围和标准内提高。</tspan></text></g>
<g id="n20b"><rect class="e" x="415" y="3053" width="21" height="39" rx="8"/></g>

<g id="n22"><rect class="m" x="501" y="3214.5" width="423" height="81" rx="40.5"/><text class="t"><tspan x="540" y="3249.1">22、问：医疗事故的伤残等级如何</tspan><tspan x="540" y="3278.1">认定？</tspan></text></g>
<g id="n22a"><rect class="l" x="103.6" y="3130" width="363.4" height="127.2" rx="9"/><text class="s"><tspan x="112.6" y="3156.4">答：对于构成医疗事故的，不需要单独进行伤</tspan><tspan x="112.6" y="3178.7">残等级鉴定，医疗事故一级乙等至三级戊等对</tspan><tspan x="112.6" y="3201">应伤残等级一至十级。不构成医疗事故的，由</tspan><tspan x="112.6" y="3223.3">原告一方申请进行司法鉴定，根据鉴定的伤残</tspan><tspan x="112.6" y="3245.6">等级和过错责任程度确定残疾赔偿金数额。</tspan></text></g>
<g id="n22b"><rect class="e" x="446" y="3295" width="21" height="39" rx="8"/></g>

<g id="n24"><rect class="m" x="501" y="3657" width="423" height="81" rx="40.5"/><text class="t"><tspan x="540" y="3691.6">24、问：如何认定不配合医疗事故</tspan><tspan x="540" y="3720.6">技术鉴定方事故等级和责任程度？</tspan></text></g>
<g id="n24a"><rect class="l" x="103.6" y="3373" width="363.4" height="394.8" rx="9"/><text class="s"><tspan x="112.6" y="3399.4">答：一、医疗机构违反《医疗事故处理条例》</tspan><tspan x="112.6" y="3421.7">的有关规定，不如实提供相关材料或不配合相</tspan><tspan x="112.6" y="3444">关调查，导致医疗事故技术鉴定不能进行的，</tspan><tspan x="112.6" y="3466.3">应当承担医疗事故责任。患者向卫生行政部门</tspan><tspan x="112.6" y="3488.6">提出判定医疗事故等级及责任程度请求的，卫</tspan><tspan x="112.6" y="3510.9">生行政部门可以委托医学会按照《医疗事故分</tspan><tspan x="112.6" y="3533.2">级标准（试行）》，对患者人身损害的后果进</tspan><tspan x="112.6" y="3555.5">行等级判定，若二级、三级医疗事故无法判定</tspan><tspan x="112.6" y="3577.8">等级的，按同级甲等定。责任程度按照完全责</tspan><tspan x="112.6" y="3600.1">任判定。二、医疗机构无故不参加随机抽取专</tspan><tspan x="112.6" y="3622.4">家库专家的，由负责组织医疗事故技术鉴定工</tspan><tspan x="112.6" y="3644.7">作的医学会向患者说明情况，经患者同意后，</tspan><tspan x="112.6" y="3667">由患者和医学会按照有关规定随机抽取鉴定专</tspan><tspan x="112.6" y="3689.3">家进行鉴定。三、医疗机构有上述情形之一，</tspan><tspan x="112.6" y="3711.6">而对判定或者鉴定结论不服，提出医疗事故技</tspan><tspan x="112.6" y="3733.9">术鉴定或者再次鉴定申请的，卫生行政部门不</tspan><tspan x="112.6" y="3756.2">予受理。</tspan></text></g>
<g id="n24b"><rect class="e" x="446" y="3805" width="21" height="39" rx="8"/></g>

<g id="n26"><rect class="m" x="501" y="3949" width="423" height="81" rx="40.5"/><text class="t"><tspan x="540" y="3983.6">26、问：被告是两家以上的医疗机</tspan><tspan x="540" y="4012.6">构的，如何确定管辖？</tspan></text></g>
<g id="n26a"><rect class="l" x="103.6" y="3880.6" width="363.4" height="104.9" rx="9"/><text class="s"><tspan x="112.6" y="3907">答：医疗纠纷案件属于一般管辖，可以由任何</tspan><tspan x="112.6" y="3929.3">一家医疗机构所在地的基层人民法院管辖，标</tspan><tspan x="112.6" y="3951.6">的超过基层人民法院管辖标准的，可以在任一</tspan><tspan x="112.6" y="3973.9">医疗机构所在地的市级人民法院立案管辖。</tspan></text></g>
<g id="n26b"><rect class="e" x="446" y="4023" width="21" height="39" rx="8"/></g>

<g id="n28"><rect class="m" x="470" y="4154" width="454" height="110" rx="55"/><text class="t"><tspan x="526" y="4188.1">28、问：原告起诉后申请司法过错</tspan><tspan x="526" y="4217.1">鉴定而被告申请医疗事故技术鉴定</tspan><tspan x="526" y="4246.1">的，法院如何处理？</tspan></text></g>
<g id="n28a"><rect class="l" x="73.6" y="4101" width="362.4" height="104.9" rx="9"/><text class="s"><tspan x="82.6" y="4127.4">答：根据《医疗事故处理条例》和最高人民法</tspan><tspan x="82.6" y="4149.7">院的司法解释精神，应首先委托进行医疗事故</tspan><tspan x="82.6" y="4172">鉴定。对于经过鉴定不属于医疗事故的，可以</tspan><tspan x="82.6" y="4194.3">根据患者的申请进行医疗过错鉴定。</tspan></text></g>
<g id="n28b"><rect class="e" x="415" y="4243" width="21" height="39" rx="8"/></g>

<g id="n30"><rect class="m" x="501" y="4354" width="423" height="81" rx="40.5"/><text class="t"><tspan x="540" y="4388.6">30、问：医疗纠纷案件的审理期限</tspan><tspan x="540" y="4417.6">多长？</tspan></text></g>
<g id="n30a"><rect class="l" x="103.6" y="4321" width="363.4" height="60.3" rx="9"/><text class="s"><tspan x="112.6" y="4347.4">答：简易程序三个月，普通程序六个月，但鉴</tspan><tspan x="112.6" y="4369.7">定时间不包括在内。</tspan></text></g>
<g id="n30b"><rect class="e" x="446" y="4418" width="21" height="39" rx="8"/></g>
</g>
</svg>
